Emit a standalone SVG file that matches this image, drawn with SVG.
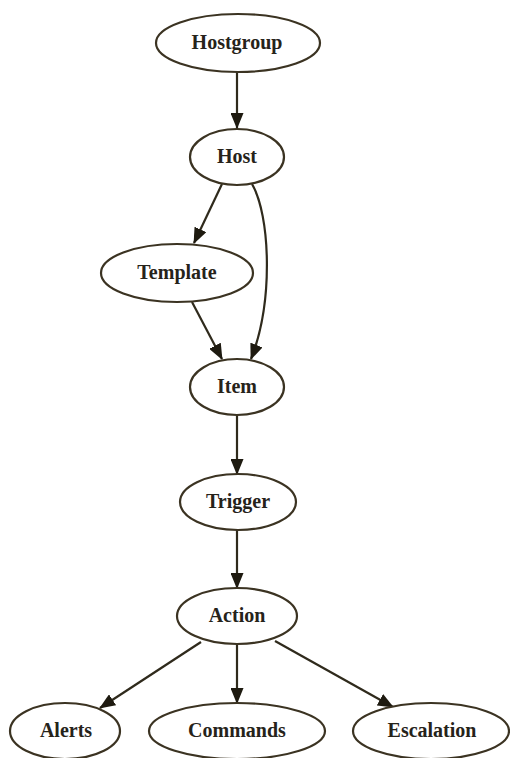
<svg xmlns="http://www.w3.org/2000/svg" width="510" height="758" viewBox="0 0 510 758">
  <style>
    .node ellipse { fill: #ffffff; stroke: #3b3322; stroke-width: 2.2; }
    .node text { font-family: "Liberation Serif", "Times New Roman", serif; font-weight: bold; font-size: 20px; fill: #26231a; text-anchor: middle; dominant-baseline: central; }
    .edge { fill: none; stroke: #2f2a1c; stroke-width: 2.2; marker-end: url(#arrow); }
  </style>
  <defs>
    <marker id="arrow" markerUnits="userSpaceOnUse" markerWidth="16" markerHeight="13" viewBox="0 0 16 13" refX="15" refY="6.5" orient="auto">
      <path d="M0,0 L16,6.5 L0,13 z" fill="#1e1a10"/>
    </marker>
  </defs>
  <rect width="510" height="758" fill="#ffffff"/>

  <!-- connectors -->
  <g id="edges">
    <path class="edge" d="M237,72 L237,128"/>
    <path class="edge" d="M222,184 L194,243"/>
    <path class="edge" d="M252,184 C270,215 274,300 251,359"/>
    <path class="edge" d="M192,302 L222,359"/>
    <path class="edge" d="M237,415 L237,474"/>
    <path class="edge" d="M237,530 L237,588"/>
    <path class="edge" d="M201,642 L100,708"/>
    <path class="edge" d="M237,644 L237,703"/>
    <path class="edge" d="M275,641 L393,707"/>
  </g>

  <!-- nodes -->
  <g id="hostgroup" class="node"><ellipse cx="238" cy="43" rx="82" ry="29"/><text x="237" y="42">Hostgroup</text></g>
  <g id="host" class="node"><ellipse cx="237" cy="157" rx="47" ry="28"/><text x="237" y="156">Host</text></g>
  <g id="template" class="node"><ellipse cx="177" cy="273" rx="76" ry="29"/><text x="177" y="272">Template</text></g>
  <g id="item" class="node"><ellipse cx="237" cy="387" rx="47" ry="28"/><text x="237" y="386">Item</text></g>
  <g id="trigger" class="node"><ellipse cx="238" cy="502" rx="58" ry="28"/><text x="238" y="501">Trigger</text></g>
  <g id="action" class="node"><ellipse cx="237" cy="616" rx="60" ry="28"/><text x="237" y="615">Action</text></g>
  <g id="alerts" class="node"><ellipse cx="65" cy="731" rx="55" ry="28"/><text x="66" y="730">Alerts</text></g>
  <g id="commands" class="node"><ellipse cx="237" cy="731" rx="88" ry="28"/><text x="237" y="730">Commands</text></g>
  <g id="escalation" class="node"><ellipse cx="431" cy="731" rx="78" ry="28"/><text x="432" y="730">Escalation</text></g>
</svg>
